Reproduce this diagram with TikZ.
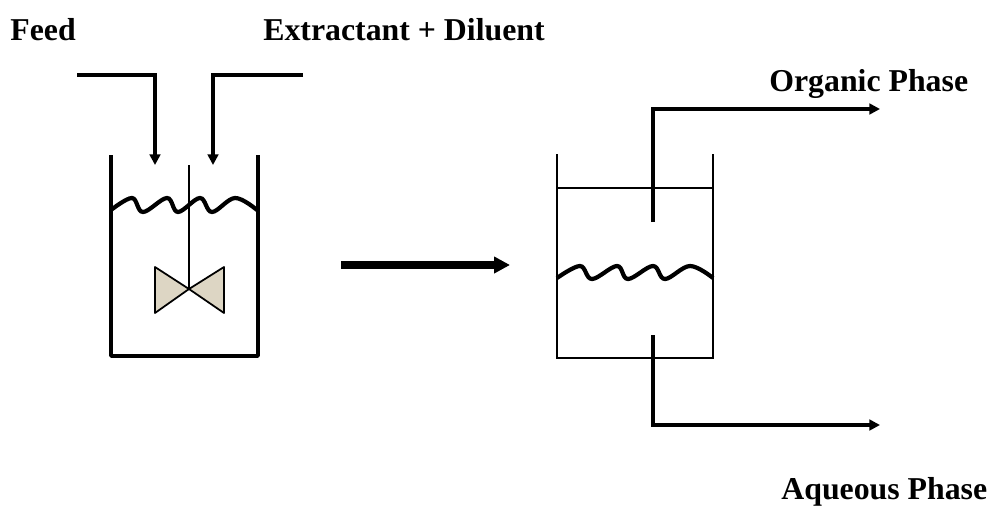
\documentclass[tikz,border=0pt]{standalone}
\usepackage{fontspec}
\setmainfont{Liberation Serif}
\usetikzlibrary{positioning,calc,arrows.meta}

\begin{document}
\begin{tikzpicture}[x=0.02cm,y=-0.02cm,
    lab/.style={font=\fontsize{18.1}{21}\selectfont\bfseries,inner sep=0pt,anchor=base west},
    wall/.style={line width=2.1pt},
    thinwall/.style={line width=1.1pt},
    pipe/.style={line width=2.1pt,-{Triangle[length=6pt,width=6pt]}},
    wave/.style={line width=2.4pt}]

\definecolor{bladetan}{RGB}{221,214,196}
\useasboundingbox (0,0) rectangle (993,507);

\node[lab] (feed) at (10,40) {Feed};
\node[lab] (extr) at (263,40) {Extractant + Diluent};
\node[lab] (org) at (769,91) {Organic Phase};
\node[lab] (aq) at (781,499) {Aqueous Phase};

% stirred tank
\coordinate (t1) at (111,155);
\coordinate (t2) at (111,356);
\coordinate (t3) at (258,356);
\coordinate (t4) at (258,155);
\draw[wall,line join=round] (t1) -- (t2) -- (t3) -- (t4);

\coordinate (f0) at (77,75);
\coordinate (f1) at (155,75);
\coordinate (f2) at (155,165);
\draw[pipe] (f0) -- (f1) -- (f2);

\coordinate (e0) at (303,75);
\coordinate (e1) at (213,75);
\coordinate (e2) at (213,165);
\draw[pipe] (e0) -- (e1) -- (e2);

\draw[wave] plot[smooth,tension=0.6] coordinates {(111,210) (132,198) (143,212) (167,198) (178,212) (200,198) (212,212) (235,198) (257,210)};

% impeller
\coordinate (s0) at (189,165);
\coordinate (s1) at (189,289);
\draw[fill=bladetan,line width=1pt,line join=round]
    (s1) -- (155,267) -- (155,313) -- (s1) -- (224,267) -- (224,313) -- cycle;
\draw[thinwall] (s0) -- (s1);

% big arrow
\coordinate (a0) at (341,265);
\coordinate (a1) at (510,265);
\draw[line width=4.5pt,-{Triangle[length=9pt,width=9pt]}] (a0) -- (a1);

% settler
\coordinate (r1) at (557,154);
\coordinate (r2) at (557,358);
\coordinate (r3) at (713,358);
\coordinate (r4) at (713,154);
\coordinate (o1) at (557,188);
\coordinate (o2) at (713,188);
\draw[thinwall] (r1) -- (r2) -- (r3) -- (r4);
\draw[thinwall] (o1) -- (o2);

\draw[wave] plot[smooth,tension=0.6] coordinates {(557,278) (580,266) (592,279) (617,266) (628,279) (653,266) (665,279) (690,266) (713,278)};

\coordinate (p0) at (653,222);
\coordinate (p1) at (653,109);
\coordinate (p2) at (880,109);
\draw[pipe] (p0) -- (p1) -- (p2);

\coordinate (q0) at (653,335);
\coordinate (q1) at (653,425);
\coordinate (q2) at (880,425);
\draw[pipe] (q0) -- (q1) -- (q2);

\end{tikzpicture}
\end{document}
